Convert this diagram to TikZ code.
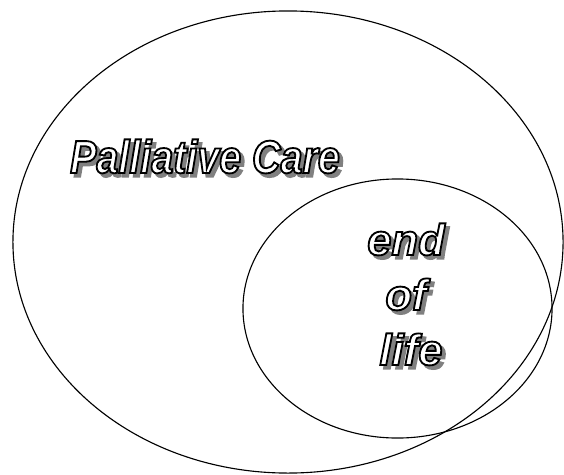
\documentclass[tikz,border=0pt]{standalone}
\usepackage{fontspec}
\usetikzlibrary{shapes.geometric}
\newfontfamily\artfont[FakeStretch=0.85]{Liberation Sans}
\newfontfamily\artfontwide{Liberation Sans}
% outlined white letters with a grey drop shadow (text render mode 2)
\newcommand{\outlined}[2]{%
  \special{pdf:literal direct #2 G 2 Tr 1.3 w}#1\special{pdf:literal direct 0 Tr 0.4 w}}
\newcommand{\artword}[1]{%
  \makebox[0pt][l]{\hspace{2.6pt}\raisebox{-2.6pt}{\textcolor{black!50}{\outlined{#1}{0.5}}}}%
  \textcolor{white}{\outlined{#1}{0}}}

\begin{document}
\begin{tikzpicture}[
    x=0.025cm, y=-0.025cm,
    region/.style={
        ellipse,
        draw,
        line width=0.8pt,
        inner sep=0pt
    },
    bigword/.style={
        anchor=base,
        inner sep=0pt,
        font=\artfont\bfseries\itshape\fontsize{33}{40}\selectfont
    },
    smallword/.style={
        anchor=base,
        inner sep=0pt,
        font=\artfontwide\bfseries\itshape\fontsize{31}{37}\selectfont
    }
]
\useasboundingbox (0,0) rectangle (564,474);

\node[region, minimum width=13.75cm, minimum height=11.55cm] (care) at (288,242) {};
\node[region, minimum width=7.725cm, minimum height=6.475cm] (eol) at (397.5,308.5) {};

\node[bigword] (caretxt) at (205,173) {\artword{Palliative Care}};

\node[smallword] (endtxt) at (406,255) {\artword{end}};
\node[smallword] (oftxt) at (406,310) {\artword{of}};
\node[smallword] (lifetxt) at (411,365) {\artword{life}};

\end{tikzpicture}
\end{document}
